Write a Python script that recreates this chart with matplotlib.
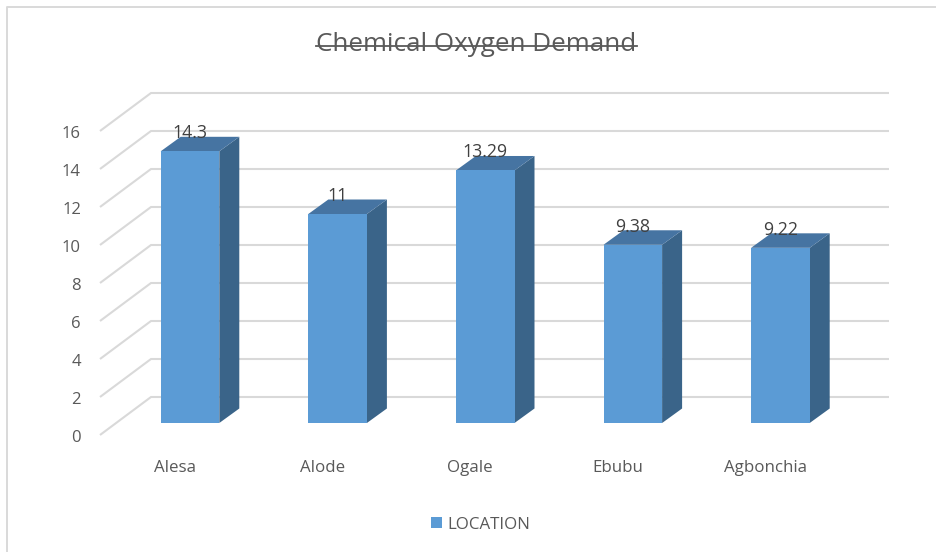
import matplotlib
matplotlib.use('Agg')
import matplotlib.pyplot as plt
from matplotlib.patches import Polygon, Rectangle

locations = ['Alesa', 'Alode', 'Ogale', 'Ebubu', 'Agbonchia']
cod_values = [14.3, 11, 13.29, 9.38, 9.22]
value_labels = ['14.3', '11', '13.29', '9.38', '9.22']
y_ticks = [0, 2, 4, 6, 8, 10, 12, 14, 16]
series_name = 'LOCATION'
chart_title = 'Chemical Oxygen Demand'

# scale of the picture, pixels per category and per unit of value
W, H = 936, 552
PX_CAT = 147.6
PX_VAL = 19.0
X0 = 190.0
Y0 = 423.0

FRONT = '#5b9bd5'
SIDE = '#3a6489'
TOP = '#4674a2'
GRID = '#d9d9d9'
TEXT = '#595959'

plt.rcParams['font.family'] = ['Open Sans', 'DejaVu Sans']


def dx(px):
    return px / PX_CAT


def dy(px):
    return px / PX_VAL


fig = plt.figure(figsize=(W / 100, H / 100), dpi=100)
ax = fig.add_axes([0, 0, 1, 1])
ax.set_xlim(-X0 / PX_CAT, (W - X0) / PX_CAT)
ax.set_ylim((Y0 - H) / PX_VAL, Y0 / PX_VAL)
ax.axis('off')

# chart frame, only the left and top edges are in the crop
ax.plot([dx(7 - X0), dx(7 - X0), dx(W - X0)], [dy(Y0 - H), dy(Y0 - 7), dy(Y0 - 7)],
        color='#d9d9d9', lw=1.4, zorder=1)

# gridlines: slanted floor part then the back wall
for t in y_ticks:
    xs = [dx(100 - X0), dx(151 - X0), dx(889 - X0)]
    ys = [t + dy(-12), t + dy(26), t + dy(26)]
    ax.plot(xs, ys, color=GRID, lw=1.5, zorder=2, solid_capstyle='butt')
    ax.text(dx(81 - X0), t + dy(-14.5), str(t), ha='right', va='center', fontsize=12, color=TEXT)

# bars
half = dx(29.3)
ox, oy = dx(20), dy(14.5)
for i, (v, lab) in enumerate(zip(cod_values, value_labels)):
    ax.add_patch(Polygon([(i + half, 0), (i + half + ox, oy), (i + half + ox, v + oy), (i + half, v)],
                         fc=SIDE, ec='none', zorder=3))
    ax.add_patch(Polygon([(i - half, v), (i + half, v), (i + half + ox, v + oy), (i - half + ox, v + oy)],
                         fc=TOP, ec='none', zorder=3))
    ax.add_patch(Rectangle((i - half, 0), 2 * half, v, fc=FRONT, ec='none', zorder=4))
    ax.text(i, v + dy(18), lab, ha='center', va='center', fontsize=12.8, color='#404040', zorder=5)
    ax.text(i + dx(-15), dy(-45.5), locations[i], ha='center', va='center', fontsize=12.2, color=TEXT)

# title with the strike through it
title = ax.text(dx(476.5 - X0), dy(Y0 - 44.5), chart_title, ha='center', va='center', fontsize=18.7, color=TEXT)
fig.canvas.draw()
bb = title.get_window_extent().transformed(ax.transData.inverted())
ax.plot([bb.x0, bb.x1], [dy(Y0 - 45.5)] * 2, color=TEXT, lw=1.3)

# legend
ax.add_patch(Rectangle((dx(431 - X0), dy(Y0 - 528)), dx(11), dy(11), fc=FRONT, ec='none'))
ax.text(dx(447 - X0), dy(Y0 - 525), series_name, ha='left', va='center', fontsize=12.2, color=TEXT)

fig.savefig('out.png', dpi=100)
